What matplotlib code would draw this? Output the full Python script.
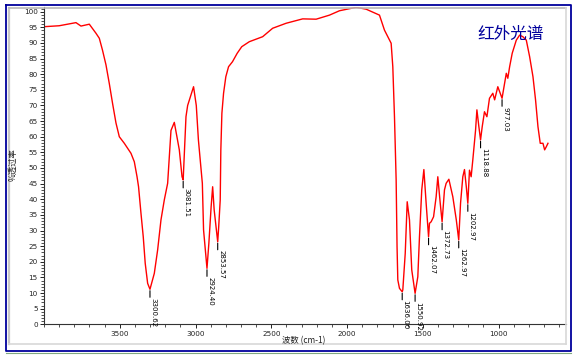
import matplotlib
matplotlib.use("Agg")
import matplotlib.pyplot as plt
from matplotlib.lines import Line2D
from matplotlib.ticker import MultipleLocator

plt.rcParams['font.family'] = ['DejaVu Sans', 'Noto Sans CJK SC']

# ---- data ----
wavenumber = [4000, 3900, 3789, 3756, 3701, 3657, 3635, 3614, 3591, 3569, 3548, 3525,
              3503, 3470, 3426, 3404, 3386, 3376, 3360, 3345, 3332, 3316, 3300.62,
              3272, 3250, 3228, 3206, 3184, 3162, 3140, 3107, 3089, 3081.51, 3063,
              3052, 3013, 2995, 2981, 2955, 2947, 2924.40, 2912, 2897, 2887, 2877,
              2853.57, 2847, 2837, 2833, 2826, 2815, 2800, 2782, 2756, 2725, 2695,
              2645, 2557, 2491, 2402, 2293, 2204, 2116, 2050, 1940, 1874, 1786, 1753,
              1709, 1698, 1687, 1676, 1670, 1665, 1654, 1636.00, 1632, 1616, 1603,
              1588, 1573, 1550.92, 1533, 1522, 1507, 1493, 1478, 1462.07, 1456, 1445,
              1429, 1412, 1401, 1385, 1372.73, 1357, 1346, 1328, 1302, 1279, 1262.97,
              1251, 1236, 1225, 1213, 1202.97, 1192, 1181, 1170, 1152, 1143, 1130,
              1118.88, 1108, 1093, 1077, 1060, 1038, 1026, 1005, 993, 977.03, 960,
              949, 939, 927, 910, 883, 861, 840, 817, 795, 773, 756, 740, 725, 707,
              696, 685, 674]
transmittance = [95.2, 95.5, 96.5, 95.4, 96.0, 93.1, 91.5, 87.7, 83.0, 77.0, 70.8, 64.4,
                 60.0, 57.9, 54.7, 52.0, 47.2, 44.0, 35.5, 28.0, 19.5, 13.1, 11.2,
                 16.3, 23.8, 33.4, 39.8, 45.1, 62.0, 64.6, 55.8, 47.2, 46.2, 66.4,
                 70.0, 76.0, 70.0, 59.0, 45.1, 30.2, 17.9, 25.9, 37.6, 44.0, 36.6,
                 26.4, 31.2, 39.8, 55.7, 67.5, 73.9, 79.2, 82.4, 84.0, 86.7, 88.8,
                 90.4, 92.0, 94.7, 96.3, 97.7, 97.6, 98.9, 100.3, 101.4, 100.8, 98.9, 94.1,
                 89.9, 82.4, 66.4, 46.2, 24.8, 14.2, 11.5, 10.4, 11.0, 22.7, 39.2,
                 33.4, 17.4, 9.9, 15.2, 28.0, 43.0, 49.5, 38.7, 28.0, 32.3, 32.8,
                 34.4, 40.8, 47.2, 38.7, 32.8, 43.0, 45.1, 46.4, 40.8, 33.4, 27.0,
                 38.7, 47.2, 49.5, 44.0, 38.7, 49.3, 47.2, 52.6, 62.0, 68.6, 63.2,
                 59.0, 63.2, 68.0, 66.4, 72.3, 73.9, 71.8, 76.0, 74.4, 72.3, 77.1,
                 80.3, 78.7, 82.4, 86.7, 90.9, 92.5, 92.0, 90.9, 85.6, 79.2, 71.8, 63.2, 57.9, 57.9,
                 55.8, 56.8, 57.9]

peak_wn = [3300.62, 3081.51, 2924.40, 2853.57, 1636.00, 1550.92, 1462.07,
           1372.73, 1262.97, 1202.97, 1118.88, 977.03]
peak_tr = [11.2, 46.2, 17.9, 26.4, 10.4, 9.9, 28.0, 32.8, 27.0, 38.7, 59.0, 72.3]
peak_labels = ["3300.62", "3081.51", "2924.40", "2853.57", "1636.00", "1550.92",
               "1462.07", "1372.73", "1262.97", "1202.97", "1118.88", "977.03"]

x_ticks = [3500, 3000, 2500, 2000, 1500, 1000]
y_ticks = list(range(0, 101, 5))

title_text = "红外光谱"
x_label = "波数 (cm-1)"
y_label = "%透过率"

# ---- figure ----
W, H = 576, 357
fig = plt.figure(figsize=(W / 100, H / 100), dpi=100)
fig.patch.set_facecolor("white")

def fx(px):
    return px / W

def fy(py):
    return 1 - py / H

# window decorations (frame)
fig.add_artist(Line2D([fx(8.5), fx(8.5)], [fy(7.5), fy(343.5)], color="#c8c8c8", lw=1.6))
fig.add_artist(Line2D([fx(8.5), fx(565.5)], [fy(343.5), fy(343.5)], color="#d8d8d8", lw=1.2))
fig.add_artist(Line2D([fx(8.5), fx(565.5)], [fy(7.5), fy(7.5)], color="#b8b8b8", lw=1.2))
fig.add_artist(Line2D([fx(565.5), fx(565.5)], [fy(7.5), fy(343.5)], color="#d8d8d8", lw=1.2))
navy = "#00009c"
fig.add_artist(Line2D([fx(5.5), fx(570.5), fx(570.5), fx(5.5), fx(5.5)],
                      [fy(4.5), fy(4.5), fy(351), fy(351), fy(4.5)], color=navy, lw=1.3))
fig.add_artist(Line2D([fx(5.5), fx(570.5)], [fy(353), fy(353)], color="#7fa87f", lw=0.8))

ax = fig.add_axes([fx(44), fy(324.3), fx(566) - fx(44), fy(7.0) - fy(324.3)])
ax.set_facecolor("none")
ax.plot(wavenumber, transmittance, color="#ff0000", lw=1.0)

ax.set_xlim(4000, 555)
ax.set_ylim(0, 101.5)
for s in ["top", "right"]:
    ax.spines[s].set_visible(False)
for s in ["left", "bottom"]:
    ax.spines[s].set_color("#333333")
    ax.spines[s].set_linewidth(0.8)

ax.set_xticks(x_ticks)
ax.set_xticklabels([str(v) for v in x_ticks])
ax.xaxis.set_minor_locator(MultipleLocator(100))
ax.set_yticks(y_ticks)
ax.set_yticklabels([str(v) for v in y_ticks])
ax.yaxis.set_minor_locator(MultipleLocator(1))
ax.tick_params(axis="both", which="major", labelsize=5.2, length=3, width=0.7,
               colors="#222222", pad=1.5)
ax.tick_params(axis="both", which="minor", length=2, width=0.6, colors="#333333")

for w, t, lab in zip(peak_wn, peak_tr, peak_labels):
    ax.annotate("", xy=(w, t), xytext=(0, -8), textcoords="offset pixels",
                arrowprops=dict(arrowstyle="-", color="black", lw=0.8,
                                shrinkA=0, shrinkB=1))
    ax.annotate(lab, xy=(w, t), xytext=(0.5, -8.5), textcoords="offset pixels",
                rotation=-90, ha="left", va="top", fontsize=5, color="black")

fig.text(fx(511), fy(34), title_text, color=navy, fontsize=12,
         family=["Noto Sans CJK SC", "DejaVu Sans"], ha="center", va="center")
fig.text(fx(304), fy(341), x_label, fontsize=6, color="#222222",
         family=["Noto Sans CJK SC", "DejaVu Sans"], ha="center", va="center")
fig.text(fx(13), fy(165), y_label, fontsize=6, color="#222222", rotation=90,
         family=["Noto Sans CJK SC", "DejaVu Sans"], ha="center", va="center")

fig.savefig("out.png", dpi=100)
